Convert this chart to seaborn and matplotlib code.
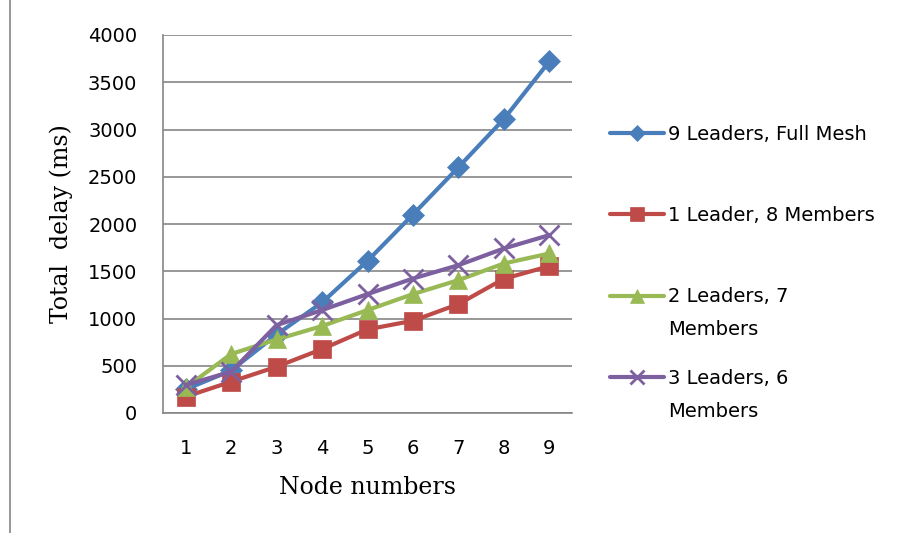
import matplotlib
matplotlib.use("Agg")
import matplotlib.pyplot as plt
from matplotlib.lines import Line2D
import seaborn as sns

nodes = [1, 2, 3, 4, 5, 6, 7, 8, 9]
full_mesh = [250, 450, 830, 1170, 1610, 2100, 2600, 3110, 3720]
one_leader = [173, 331, 490, 676, 885, 976, 1152, 1420, 1554]
two_leaders = [270, 624, 779, 920, 1089, 1258, 1406, 1582, 1688]
three_leaders = [296, 437, 930, 1089, 1258, 1423, 1564, 1741, 1882]

labels = ["9 Leaders, Full Mesh", "1 Leader, 8 Members",
          "2 Leaders, 7", "3 Leaders, 6"]
label_tails = ["", "", "Members", "Members"]
colors = ["#4A7EBB", "#BE4B48", "#98B954", "#7D60A0"]
markers = ["D", "s", "^", "x"]
msizes = [11, 13, 13, 14]

sns.set_style("white")
plt.rcParams["font.family"] = ["DejaVu Sans"]
plt.rcParams["text.color"] = "black"
plt.rcParams["xtick.labelcolor"] = "black"
plt.rcParams["ytick.labelcolor"] = "black"

fig = plt.figure(figsize=(9.16, 5.33), dpi=100)
ax = fig.add_axes([163 / 916, 1 - 413 / 533, (572 - 163) / 916, (413 - 35) / 533])

series = [full_mesh, one_leader, two_leaders, three_leaders]
for vals, lab, col, mk, ms in zip(series, labels, colors, markers, msizes):
    sns.lineplot(x=nodes, y=vals, ax=ax, color=col, marker=mk, markersize=ms,
                 linewidth=3, label=lab, markeredgecolor=col,
                 markeredgewidth=2 if mk == "x" else 0.5)

ax.set_xlim(0.5, 9.5)
ax.set_ylim(0, 4000)
ax.set_yticks(range(0, 4001, 500))
ax.set_xticks([i + 0.5 for i in range(0, 10)])
ax.set_xticklabels([])
ax.set_xticks(nodes, minor=True)
ax.set_xticklabels([str(n) for n in nodes], minor=True)
ax.tick_params(axis="x", which="major", direction="out", length=6, width=1, color="#868686")
ax.tick_params(axis="x", which="minor", length=0, pad=19, labelsize=14)
ax.tick_params(axis="y", direction="out", length=6.5, width=1, color="#868686", pad=12, labelsize=14)
ax.yaxis.grid(True, color="#868686", linewidth=1.2)
ax.set_axisbelow(True)
for side in ["top", "right"]:
    ax.spines[side].set_visible(False)
for side in ["left", "bottom"]:
    ax.spines[side].set_color("#868686")
    ax.spines[side].set_linewidth(1.2)

ax.set_xlabel("Node numbers", family="DejaVu Serif", fontsize=17, labelpad=13, color="black")
ax.set_ylabel("Total  delay (ms)", family="DejaVu Serif", fontsize=17, labelpad=11, color="black")

leg = ax.legend(loc="upper left", bbox_to_anchor=(610 / 916, 1 - 125 / 533),
                bbox_transform=fig.transFigure, frameon=False, fontsize=14,
                handlelength=2.8, handletextpad=0.2, labelspacing=3.2, borderpad=0,
                borderaxespad=0, markerscale=0.75)

# second line of the wrapped legend labels
fig.canvas.draw()
for txt, tail in zip(leg.get_texts(), label_tails):
    if tail:
        bb = txt.get_window_extent()
        fig.text(bb.x0 / 916, (bb.y0 - 33) / 533, tail, fontsize=14,
                 ha="left", va="bottom", color="black")

fig.add_artist(Line2D([10 / 916, 10 / 916], [0, 1], transform=fig.transFigure,
                      color="#868686", linewidth=1.2))

fig.savefig("out.png", dpi=100)
